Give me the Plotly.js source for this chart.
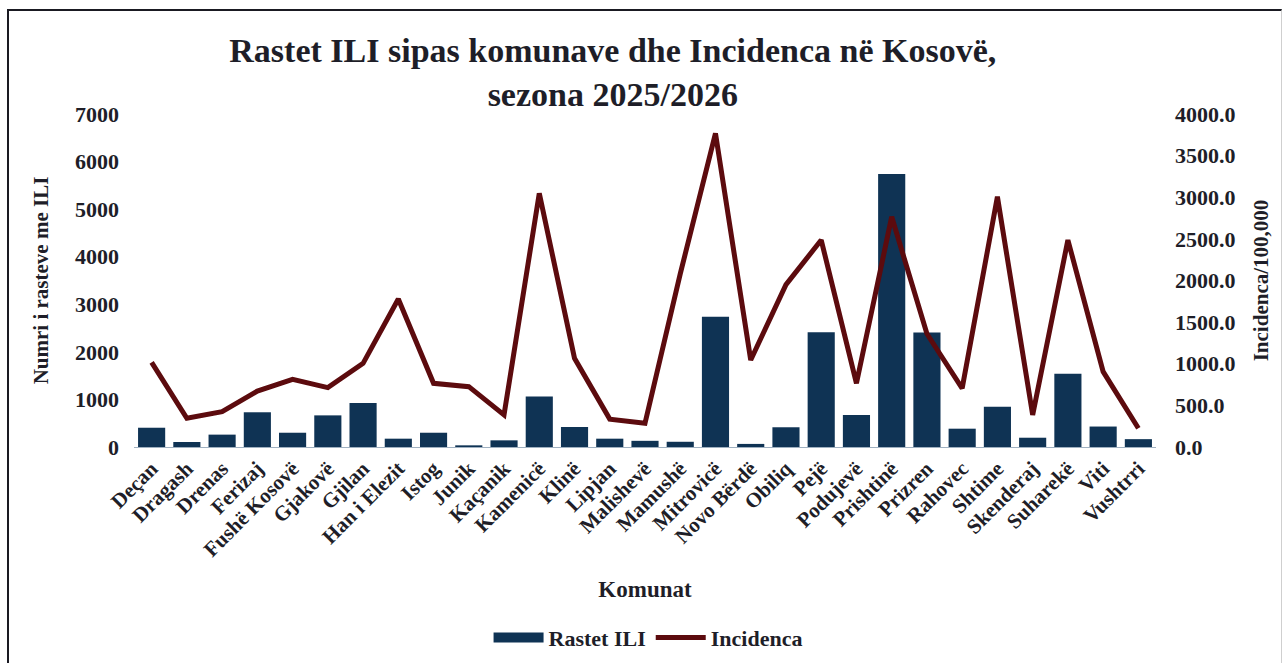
<!DOCTYPE html>
<html>
<head>
<meta charset="utf-8">
<script src="https://cdn.plot.ly/plotly-3.0.1.min.js"></script>
<style>
html,body{margin:0;padding:0;background:#fff;}
#wrap{position:relative;width:1282px;height:663px;}
#chart{width:1282px;height:663px;}
#frame{position:absolute;left:7px;top:9px;width:1272px;height:660px;border-left:2px solid #1a1a22;border-top:2px solid #1a1a22;border-right:1px solid #cfcfcf;pointer-events:none;}
</style>
</head>
<body>
<div id="wrap"><div id="chart"></div><div id="frame"></div></div>
<script>
const categories = ["Deçan","Dragash","Drenas","Ferizaj","Fushë Kosovë","Gjakovë","Gjilan","Han i Elezit","Istog","Junik","Kaçanik","Kamenicë","Klinë","Lipjan","Malishevë","Mamushë","Mitrovicë","Novo Bërdë","Obiliq","Pejë","Podujevë","Prishtinë","Prizren","Rahovec","Shtime","Skenderaj","Suharekë","Viti","Vushtrri"];
const rastetILI = [405,105,260,730,300,665,925,175,300,35,140,1060,420,175,130,110,2740,65,415,2410,673,5740,2405,385,845,195,1540,430,165];
const incidenca = [1017,345,424,672,813,713,1005,1777,765,725,385,3047,1065,335,285,2080,3768,1045,1950,2486,765,2766,1360,705,3006,385,2486,905,225];
const leftTicks = [0,1000,2000,3000,4000,5000,6000,7000];
const rightTicks = [0,500,1000,1500,2000,2500,3000,3500,4000];

const serif = "Liberation Serif, Times New Roman, serif";
const txt = "#1e1e28";
const navy = "#0f3354";
const maroon = "#5c0b0e";

const traces = [
  {type:"bar", name:"Rastet ILI", x:categories, y:rastetILI, marker:{color:navy}, yaxis:"y", showlegend:false},
  {type:"scatter", mode:"lines", name:"<b>Rastet ILI</b>", x:[categories[0]], y:[null], line:{color:navy, width:11}, yaxis:"y", hoverinfo:"skip"},
  {type:"scatter", mode:"lines", name:"<b>Incidenca</b>", x:categories, y:incidenca, line:{color:maroon, width:5}, yaxis:"y2"}
];

const layout = {
  width:1282, height:663,
  paper_bgcolor:"rgba(0,0,0,0)", plot_bgcolor:"rgba(0,0,0,0)",
  margin:{l:134, r:126, t:114, b:216, autoexpand:false},
  bargap:0.23,
  font:{family:serif, color:txt},
  title:{text:"<b>Rastet ILI sipas komunave dhe Incidenca në Kosovë,<br>sezona 2025/2026</b>", x:0.478, xanchor:"center", y:0.907, yanchor:"top", font:{family:serif, size:34, color:txt}},
  xaxis:{automargin:false, tickangle:-45, tickvals:categories, ticktext:categories.map(c=>"<b>"+c+"</b>"), tickfont:{family:serif, size:21, color:txt}, showline:true, linecolor:"#9fb0c0", linewidth:1, ticks:"", showgrid:false,
         title:{text:"<b>Komunat</b>", font:{family:serif, size:23, color:txt}, standoff:20}},
  yaxis:{automargin:false, range:[0,7000], tickvals:leftTicks, ticktext:leftTicks.map(v=>"<b>"+v+"</b>"), showgrid:false, zeroline:false, ticks:"", tickfont:{family:serif, size:22, color:txt}, ticklabelstandoff:14,
         title:{text:"<b>Numri i rasteve me ILI</b>", font:{family:serif, size:21, color:txt}, standoff:20}},
  yaxis2:{automargin:false, range:[0,4000], overlaying:"y", side:"right", tickvals:rightTicks, ticktext:rightTicks.map(v=>"<b>"+v.toFixed(1)+"</b>"), showgrid:false, zeroline:false, ticks:"", tickfont:{family:serif, size:22, color:txt}, ticklabelstandoff:18,
         title:{text:"<b>Incidenca/100,000</b>", font:{family:serif, size:21, color:txt}, standoff:18}},
  legend:{orientation:"h", xref:"paper", x:0.503, xanchor:"center", yref:"container", y:0.038, yanchor:"middle", font:{family:serif, size:22, color:txt}, traceorder:"normal", itemwidth:50, tracegroupgap:0},
  showlegend:true
};

Plotly.newPlot("chart", traces, layout, {displayModeBar:false, staticPlot:true});
</script>
</body>
</html>
